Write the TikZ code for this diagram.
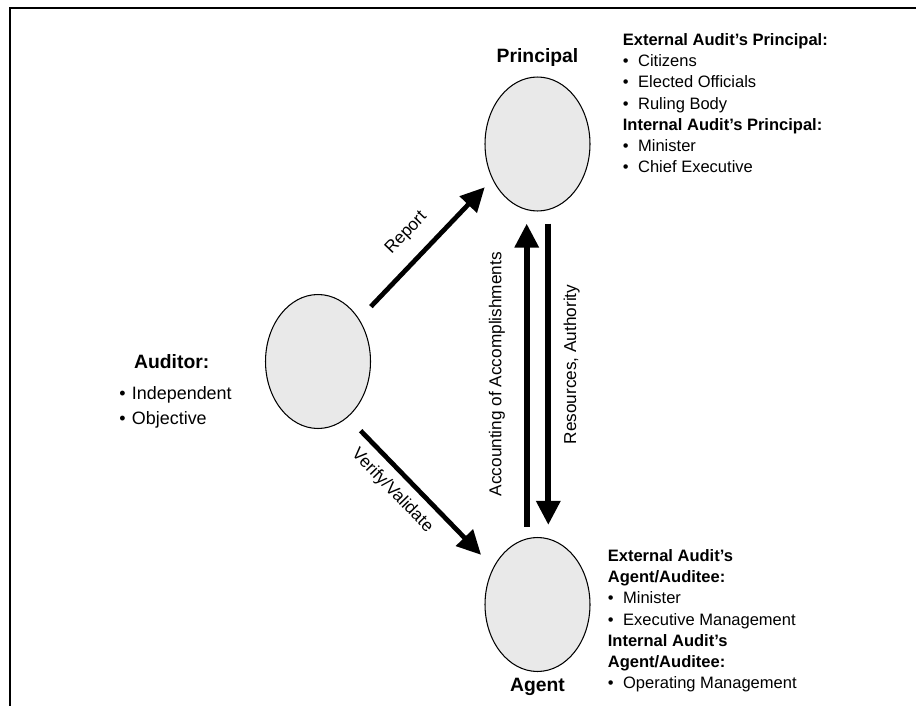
\documentclass[tikz,border=0pt]{standalone}
\usepackage{fontspec}
\setmainfont{Liberation Sans}
\usetikzlibrary{arrows.meta, positioning, shapes.geometric}
\definecolor{discgray}{RGB}{233,233,233}
\newcommand{\itm}[1][8.7pt]{\makebox[#1][l]{\textbullet}}
\tikzset{
  disc/.style={ellipse, draw, line width=0.6pt, fill=discgray, minimum width=2.1cm, minimum height=2.68cm, inner sep=0pt},
  ttl/.style={font=\fontsize{11}{13}\selectfont\bfseries, inner sep=0pt},
  lst/.style={align=left, inner sep=0pt, font=\fontsize{9.4}{12.1}\selectfont},
  lab/.style={font=\fontsize{9.8}{12}\selectfont, inner sep=0pt},
  arr/.style={-{Triangle[length=0.48cm, width=0.46cm]}, line width=2.7pt},
  varr/.style={arr, line width=3.4pt}
}

\begin{document}
\begin{tikzpicture}[x=0.02cm, y=-0.02cm]
	\useasboundingbox (0,0) rectangle (916,706);
	% frame, open at the right and the bottom
	\draw[line width=0.04cm] (10,706) -- (10,8) -- (916,8);
	% the three parties
	\node[disc] (principal) at (537.5,144) {};
	\node[disc] (auditor) at (318,361.5) {};
	\node[disc] (agent) at (537.5,604.5) {};
	\node[ttl, above=0.2cm of principal] (prinlbl) {Principal};
	\node[ttl, below=0.12cm of agent] (agentlbl) {Agent};
	\node[ttl, anchor=base] (audlbl) at (171.7,368) {Auditor:};
	% who they are
	\node[lst, font=\fontsize{10.2}{14.2}\selectfont, anchor=north west] (audlist) at (119,386.5) {\itm[7.2pt]Independent\\ \itm[7.2pt]Objective};
	\node[lst, anchor=north west] (prinlist) at (622.5,33) {\textbf{External Audit's Principal:}\\ \itm Citizens\\ \itm Elected Officials\\ \itm Ruling Body\\ \textbf{Internal Audit's Principal:}\\ \itm Minister\\ \itm Chief Executive};
	\node[lst, anchor=north west] (agentlist) at (607.5,549) {\textbf{External Audit's}\\ \textbf{Agent/Auditee:}\\ \itm Minister\\ \itm Executive Management\\ \textbf{Internal Audit's}\\ \textbf{Agent/Auditee:}\\ \itm Operating Management};
	% arrows
	\draw[arr, shorten <=0.34cm, shorten >=0.22cm] (auditor.46) -- node[lab, sloped, above=8.4pt, pos=0.49] {Report} (principal.218);
	\draw[arr, shorten <=0.37cm, shorten >=0.35cm] (auditor.-62) -- node[lab, sloped, below=5pt, pos=0.4] {Verify/Validate} (agent.140);
	\draw[varr, shorten <=0.2cm, shorten >=0.24cm] ([xshift=-0.216cm]agent.north) -- node[lab, sloped, above=10.7pt, pos=0.5] {Accounting of Accomplishments} ([xshift=-0.216cm]principal.south);
	\draw[varr, shorten <=0.24cm, shorten >=0.24cm] ([xshift=0.216cm]principal.south) -- node[lab, rotate=90, anchor=north, outer sep=8.7pt, pos=0.47] {Resources, Authority} ([xshift=0.216cm]agent.north);
\end{tikzpicture}
\end{document}
